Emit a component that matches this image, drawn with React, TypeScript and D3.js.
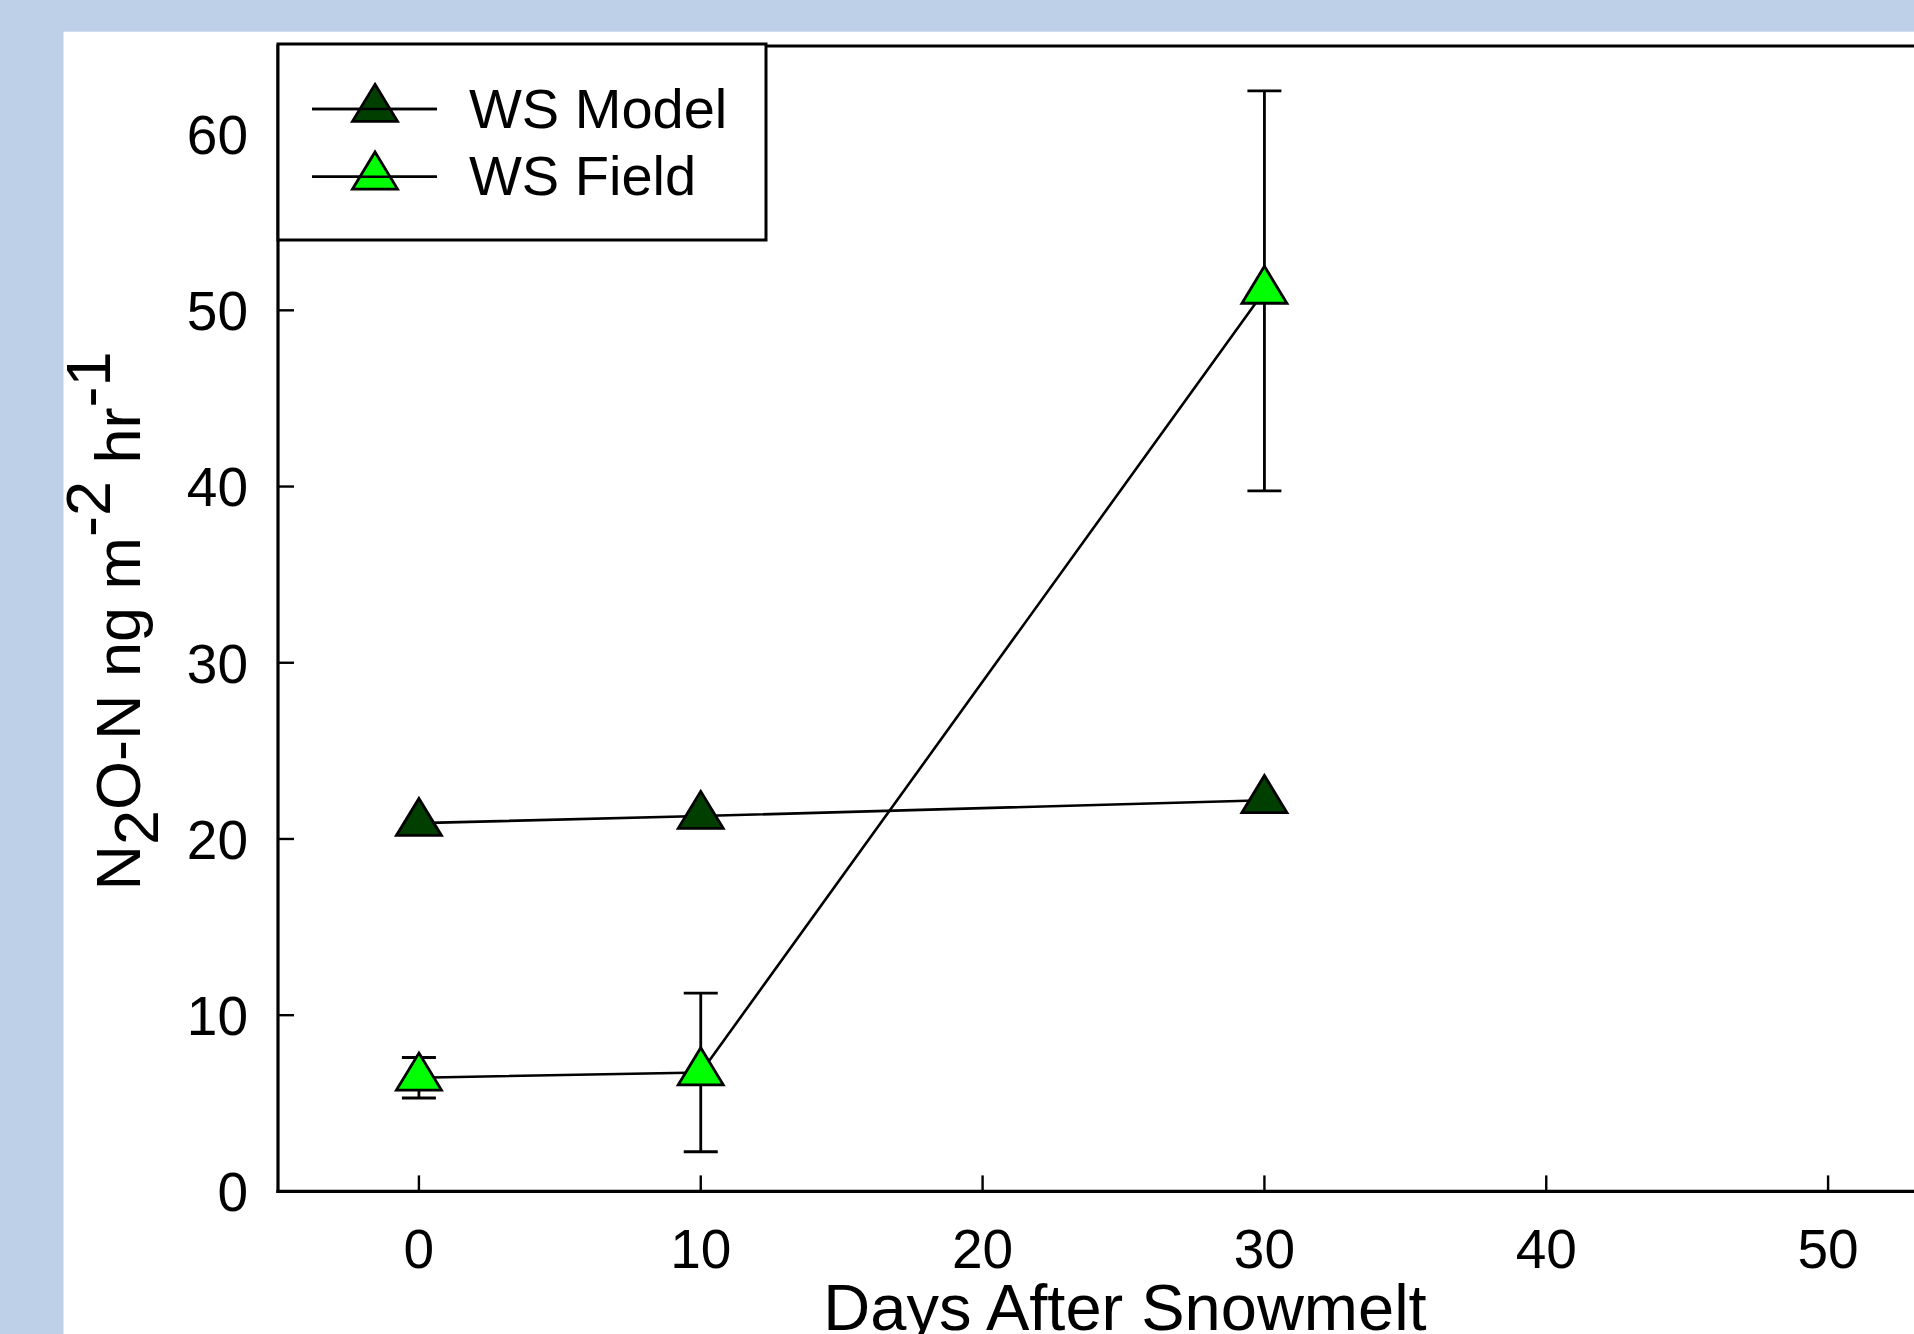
import React from "react";
import * as d3 from "d3";

const days = [0, 10, 30];
const modelValues = [20.9, 21.3, 22.2];
const fieldValues = [6.45, 6.75, 51.1];
const fieldErrors = [1.15, 4.5, 11.35];
const xTicks = [0, 10, 20, 30, 40, 50];
const yTicks = [0, 10, 20, 30, 40, 50, 60];
const seriesNames = ["WS Model", "WS Field"];
const seriesColors = ["#003F00", "#00FF00"];

const W = 1914;
const H = 1334;
const FONT = "'Liberation Sans', Arial, Helvetica, sans-serif";

export default function App() {
  const x = d3.scaleLinear().domain([-5, 55]).range([278, 1969]);
  const y = d3.scaleLinear().domain([0, 65]).range([1191.4, 46]);
  const plotLeft = x(-5);
  const plotTop = y(65);
  const plotBottom = y(0);

  const line = d3
    .line<[number, number]>()
    .x((d) => x(d[0]))
    .y((d) => y(d[1]));

  const modelPts: [number, number][] = days.map((d, i) => [d, modelValues[i]]);
  const fieldPts: [number, number][] = days.map((d, i) => [d, fieldValues[i]]);

  const th = 37;
  const tw = 45;
  const tri = `M0,${(-2 * th) / 3} L${tw / 2},${th / 3} L${-tw / 2},${th / 3} Z`;
  const capW = 34;

  const legendX = 278;
  const legendY = 44;
  const legendW = 488;
  const legendH = 196;
  const legendRows = [109, 176.7];

  return (
    <svg
      width={W}
      height={H}
      style={{ position: "fixed", left: 0, top: 0, display: "block" }}
      fontFamily={FONT}
    >
      <rect x={0} y={0} width={W} height={H} fill="#BDD0E8" />
      <rect x={63.5} y={31.7} width={W - 63.5} height={H - 31.7} fill="#FFFFFF" />

      {/* frame */}
      <line x1={plotLeft} x2={W} y1={plotTop} y2={plotTop} stroke="#000" strokeWidth={3.2} />
      <line x1={plotLeft} x2={plotLeft} y1={plotTop - 1.6} y2={plotBottom + 1.6} stroke="#000" strokeWidth={3.2} />
      <line x1={plotLeft - 1.6} x2={W} y1={plotBottom} y2={plotBottom} stroke="#000" strokeWidth={3.2} />

      {/* x ticks */}
      {xTicks.map((t) => (
        <g key={"xt" + t}>
          <line x1={x(t)} x2={x(t)} y1={plotBottom} y2={plotBottom - 16} stroke="#000" strokeWidth={2.4} />
          <text x={x(t)} y={1268} fontSize={55} textAnchor="middle" fill="#000">
            {t}
          </text>
        </g>
      ))}

      {/* y ticks */}
      {yTicks.map((t) => (
        <g key={"yt" + t}>
          <line x1={plotLeft} x2={plotLeft + 16} y1={y(t)} y2={y(t)} stroke="#000" strokeWidth={2.4} />
          <text x={248} y={y(t)} dy="0.36em" fontSize={55} textAnchor="end" fill="#000">
            {t}
          </text>
        </g>
      ))}

      {/* axis titles */}
      <text x={1125} y={1330} fontSize={65} textAnchor="middle" fill="#000">
        Days After Snowmelt
      </text>
      <text transform="translate(140,621) rotate(-90)" fontSize={63} textAnchor="middle" fill="#000">
        <tspan>N</tspan>
        <tspan dy={18}>2</tspan>
        <tspan dy={-18}>O-N ng m</tspan>
        <tspan dy={-30}>-2</tspan>
        <tspan dy={30}> hr</tspan>
        <tspan dy={-30}>-1</tspan>
      </text>

      {/* lines */}
      <path d={line(modelPts) || ""} fill="none" stroke="#000" strokeWidth={2.6} />
      <path d={line(fieldPts) || ""} fill="none" stroke="#000" strokeWidth={2.6} />

      {/* error bars */}
      {days.map((d, i) => {
        const cx = x(d);
        const top = y(fieldValues[i] + fieldErrors[i]);
        const bot = y(fieldValues[i] - fieldErrors[i]);
        return (
          <g key={"eb" + i} stroke="#000" strokeWidth={2.8}>
            <line x1={cx} x2={cx} y1={top} y2={bot} />
            <line x1={cx - capW / 2} x2={cx + capW / 2} y1={top} y2={top} />
            <line x1={cx - capW / 2} x2={cx + capW / 2} y1={bot} y2={bot} />
          </g>
        );
      })}

      {/* markers */}
      {modelPts.map((p, i) => (
        <path
          key={"mm" + i}
          d={tri}
          transform={`translate(${x(p[0])},${y(p[1])})`}
          fill={seriesColors[0]}
          stroke="#000"
          strokeWidth={2.8}
          strokeLinejoin="miter"
        />
      ))}
      {fieldPts.map((p, i) => (
        <path
          key={"fm" + i}
          d={tri}
          transform={`translate(${x(p[0])},${y(p[1])})`}
          fill={seriesColors[1]}
          stroke="#000"
          strokeWidth={2.8}
          strokeLinejoin="miter"
        />
      ))}

      {/* legend */}
      <rect x={legendX} y={legendY} width={legendW} height={legendH} fill="#FFF" stroke="#000" strokeWidth={3} />
      {seriesNames.map((name, i) => (
        <g key={"lg" + i}>
          <line x1={312} x2={437} y1={legendRows[i]} y2={legendRows[i]} stroke="#000" strokeWidth={2.6} />
          <path
            d={tri}
            transform={`translate(375,${legendRows[i]})`}
            fill={seriesColors[i]}
            stroke="#000"
            strokeWidth={2.8}
          />
          <line x1={312} x2={437} y1={legendRows[i]} y2={legendRows[i]} stroke="#000" strokeWidth={2.6} />
          <text x={469} y={legendRows[i] + 18.5} fontSize={56} fill="#000">
            {name}
          </text>
        </g>
      ))}
    </svg>
  );
}
